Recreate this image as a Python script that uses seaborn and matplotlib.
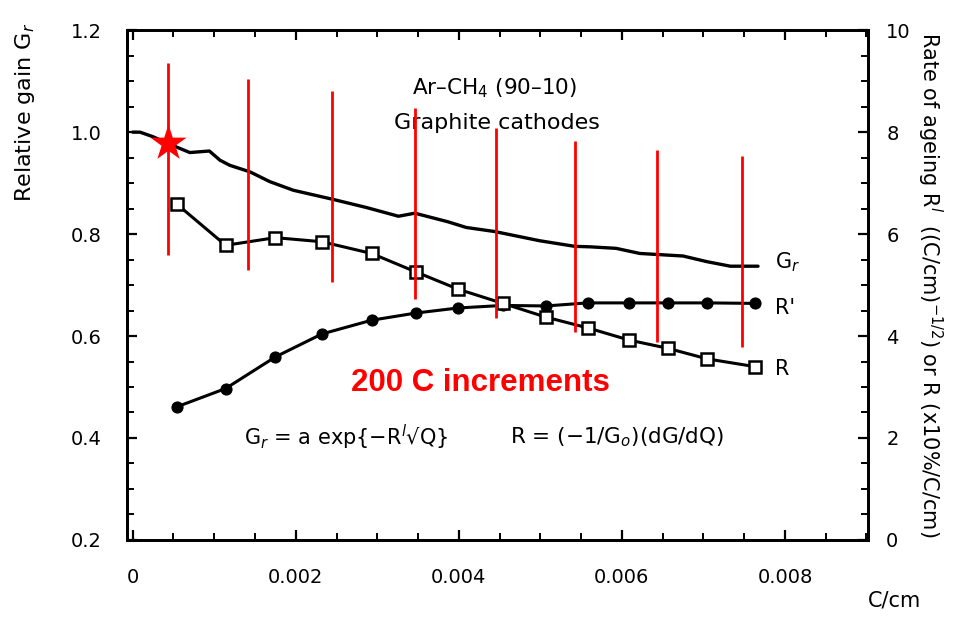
import numpy as np
import pandas as pd
import seaborn as sns
import matplotlib.pyplot as plt
from matplotlib.ticker import MultipleLocator, FixedFormatter, FixedLocator

## Data
# relative gain curve (left axis)
gain_x = [0.0, 0.00009, 0.00025, 0.00043, 0.00070, 0.00094, 0.00107, 0.00119, 0.00144,
          0.00168, 0.00197, 0.00246, 0.00287, 0.00326, 0.00346, 0.00387, 0.00409,
          0.00444, 0.00499, 0.00542, 0.00561, 0.00593, 0.00622, 0.00675, 0.00704,
          0.00733, 0.00767]
gain_y = [1.000, 1.000, 0.991, 0.978, 0.960, 0.963, 0.945, 0.935, 0.922,
          0.903, 0.886, 0.868, 0.852, 0.835, 0.841, 0.824, 0.813,
          0.805, 0.787, 0.776, 0.775, 0.772, 0.762, 0.757, 0.746,
          0.737, 0.737]

# rate of ageing (right axis)
rate_x = [0.00054, 0.00114, 0.00175, 0.00232, 0.00293, 0.00347, 0.00399,
          0.00454, 0.00507, 0.00558, 0.00609, 0.00656, 0.00705, 0.00763]
r_prime = [2.61, 2.97, 3.59, 4.04, 4.31, 4.45, 4.55, 4.60, 4.59, 4.65, 4.65, 4.65, 4.65, 4.64]
r_vals = [6.59, 5.78, 5.93, 5.85, 5.62, 5.26, 4.92, 4.64, 4.37, 4.16, 3.92, 3.76, 3.55, 3.40]

# 200 C increment markers (left axis units)
incr_x = [0.00043, 0.00141, 0.00245, 0.00346, 0.00445, 0.00542, 0.00643, 0.00747]
incr_lo = [0.759, 0.729, 0.706, 0.673, 0.635, 0.608, 0.588, 0.578]
incr_hi = [1.135, 1.104, 1.080, 1.047, 1.008, 0.982, 0.965, 0.953]

star_x = [0.00043]
star_y = [0.978]

left_ticks = [0.2, 0.4, 0.6, 0.8, 1.0, 1.2]
right_ticks = [0, 2, 4, 6, 8, 10]
x_ticks = [0, 0.002, 0.004, 0.006, 0.008]
x_ticklabels = ['0', '0.002', '0.004', '0.006', '0.008']

gain_df = pd.DataFrame({'Q': gain_x, 'G': gain_y})
rate_df = pd.DataFrame({'Q': rate_x, 'Rp': r_prime, 'R': r_vals})

sns.set_style("ticks")
plt.rcParams['font.family'] = ['DejaVu Sans']
plt.rcParams.update({'text.color': 'black', 'axes.labelcolor': 'black',
                     'xtick.color': 'black', 'ytick.color': 'black'})

fig = plt.figure(figsize=(9.55, 6.17), dpi=100)
ax = fig.add_axes([0.133, 0.125, 0.776, 0.826])
ax2 = ax.twinx()

sns.lineplot(data=gain_df, x='Q', y='G', ax=ax, color='black', lw=2.4,
             estimator=None, sort=False)
sns.lineplot(data=rate_df, x='Q', y='Rp', ax=ax2, color='black', lw=2.2,
             marker='o', markersize=8, markeredgecolor='black', estimator=None, sort=False)
sns.lineplot(data=rate_df, x='Q', y='R', ax=ax2, color='black', lw=2.2,
             marker='s', markersize=9, markerfacecolor='white', markeredgecolor='black',
             markeredgewidth=1.8, estimator=None, sort=False)

# red increment lines and star go on top of everything
ax2.vlines(incr_x, [(v - 0.2) * 10 for v in incr_lo], [(v - 0.2) * 10 for v in incr_hi],
           color='red', lw=2, zorder=6)
sns.scatterplot(x=star_x, y=[(v - 0.2) * 10 for v in star_y], ax=ax2, marker='*', s=750,
                color='red', edgecolor='red', linewidth=0, zorder=7)

ax.set_xlim(-0.00007, 0.00902)
ax.set_ylim(0.2, 1.2)
ax2.set_ylim(0, 10)

ax.xaxis.set_major_locator(FixedLocator(x_ticks))
ax.xaxis.set_major_formatter(FixedFormatter(x_ticklabels))
ax.xaxis.set_minor_locator(MultipleLocator(0.0005))
ax.set_yticks(left_ticks)
ax.set_yticklabels([f'{t:.1f}' for t in left_ticks])
ax.yaxis.set_minor_locator(MultipleLocator(0.05))
ax2.set_yticks(right_ticks)
ax2.set_yticklabels([str(t) for t in right_ticks])

ax.tick_params(axis='both', which='major', direction='in', length=7, width=1.6,
               labelsize=14, top=True)
ax.tick_params(axis='both', which='minor', direction='in', length=5, width=1.4, top=True)
ax.tick_params(axis='y', which='major', pad=18)
ax.tick_params(axis='x', which='major', pad=20)
ax2.tick_params(axis='y', which='major', direction='in', length=7, width=1.6,
                labelsize=14, pad=13)
ax2.yaxis.set_minor_locator(MultipleLocator(0.5))
ax2.tick_params(axis='y', which='minor', direction='in', length=5, width=1.4)

for a in (ax, ax2):
    for s in a.spines.values():
        s.set_linewidth(2)
        s.set_color('black')

ax.set_xlabel('C/cm', fontsize=15)
ax.xaxis.set_label_coords(1.035, -0.1)
ax.set_ylabel('Relative gain G$_r$', fontsize=16)
ax.yaxis.set_label_coords(-0.122, 0.84)
ax2.set_ylabel('Rate of ageing R$^l$  ((C/cm)$^{-1/2}$) or R (x10%/C/cm)',
               fontsize=15, rotation=270, labelpad=24)

ax.text(0.00444, 1.086, 'Ar–CH$_4$ (90–10)', fontsize=15.5, ha='center', va='center')
ax.text(0.00447, 1.018, 'Graphite cathodes', fontsize=16, ha='center', va='center')
ax.text(0.00137, 0.402, 'G$_r$ = a exp{−R$^l$√Q}', fontsize=15, ha='left', va='center')
ax.text(0.00463, 0.402, 'R = (−1/G$_o$)(dG/dQ)', fontsize=15.5, ha='left', va='center')
ax.text(0.00788, 0.745, 'G$_r$', fontsize=15, ha='left', va='center')
ax.text(0.00788, 0.655, "R'", fontsize=15, ha='left', va='center')
ax.text(0.00788, 0.535, 'R', fontsize=15, ha='left', va='center')
ax.text(0.00427, 0.508, '200 C increments', fontsize=22.5, color='red', fontweight='bold',
        family=['Liberation Sans', 'DejaVu Sans'], ha='center', va='center')

ax2.set_xlabel('')
ax2.grid(False)
ax.grid(False)

plt.savefig('out.png', dpi=100)
